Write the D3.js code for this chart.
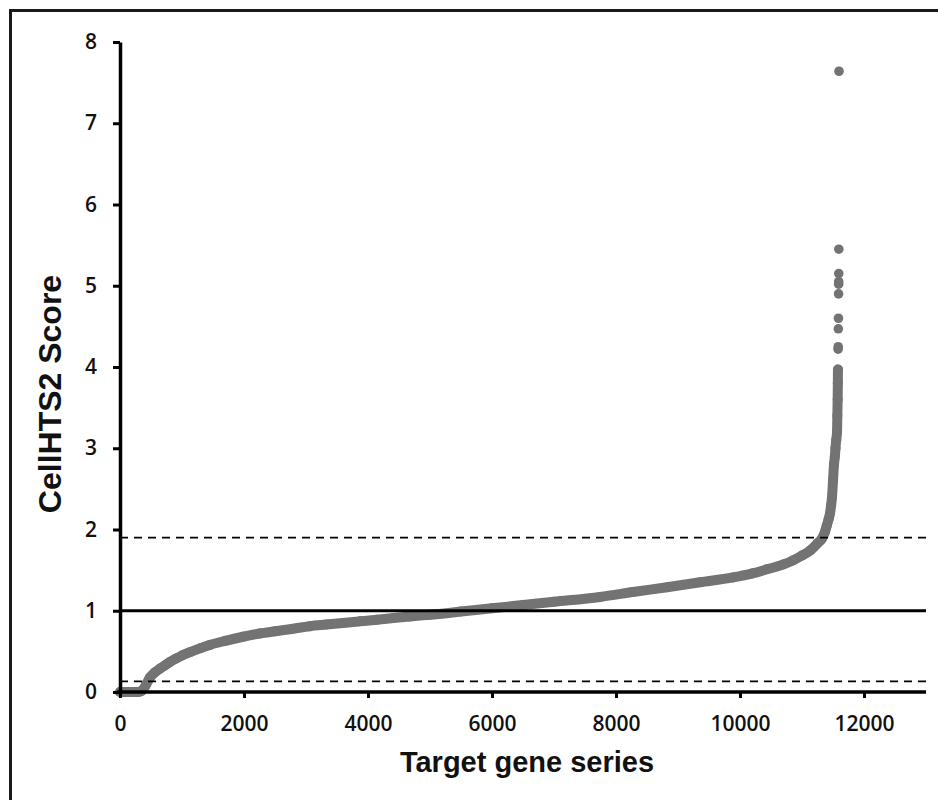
<!DOCTYPE html>
<html>
<head>
<meta charset="utf-8">
<script src="https://cdn.jsdelivr.net/npm/d3@7"></script>
<style>
  body { margin: 0; background: #fff; }
  svg { display: block; }
</style>
</head>
<body>
<svg id="chart" width="938" height="800"></svg>
<script>
// Sorted CellHTS2 scores (rank along the target gene series, score)
const geneRank = [0, 60, 120, 180, 240, 300, 360, 420, 484, 560, 650, 730, 806, 900, 1000, 1129, 1300, 1452,
  1700, 1984, 2250, 2532, 2800, 3065, 3330, 3597, 3870, 4145, 4410, 4677, 5000, 5500, 6000, 6500, 7000,
  7742, 8274, 8823, 9355, 9887, 10200, 10435, 10700, 10855, 11000, 11129, 11250, 11323, 11370, 11400,
  11430, 11452, 11470, 11484, 11500, 11516, 11530, 11540, 11552, 11565, 11570, 11575, 11578, 11580];
const geneScore = [0, 0, 0, 0, 0, 0, 0.02, 0.09, 0.18, 0.24, 0.29, 0.33, 0.37, 0.41, 0.45, 0.49, 0.54, 0.58,
  0.63, 0.68, 0.72, 0.75, 0.78, 0.81, 0.83, 0.85, 0.87, 0.89, 0.91, 0.93, 0.95, 0.99, 1.03, 1.07, 1.11,
  1.17, 1.23, 1.29, 1.35, 1.41, 1.46, 1.51, 1.57, 1.62, 1.68, 1.74, 1.83, 1.89, 1.97, 2.05,
  2.13, 2.20, 2.30, 2.40, 2.60, 2.80, 2.90, 3.00, 3.10, 3.20, 3.40, 3.60, 3.80, 3.97];
// isolated high-scoring hits at the top of the series
const hitRank = [11582, 11584, 11586, 11588, 11590, 11591, 11592, 11593, 11594, 11597];
const hitScore = [4.22, 4.25, 4.47, 4.60, 4.90, 5.02, 5.05, 5.15, 5.45, 7.64];
// reference lines
const refSolid = [1.0];
const refDashed = [1.9, 0.13];
// axes
const xTicks = [0, 2000, 4000, 6000, 8000, 10000, 12000];
const yTicks = [0, 1, 2, 3, 4, 5, 6, 7, 8];
const xDomain = [0, 13000];
const yDomain = [0, 8];
const xTitle = "Target gene series";
const yTitle = "CellHTS2 Score";

(function () {
const svg = d3.select("#chart");
const mLeft = 120, mRight = 926, mTop = 42, mBottom = 692;
const x = d3.scaleLinear().domain(xDomain).range([mLeft, mRight]);
const y = d3.scaleLinear().domain(yDomain).range([mBottom, mTop]);

// outer frame (continues beyond the picture on right and bottom)
svg.append("path").attr("d", "M10.5,810 L10.5,10.5 L950,10.5")
  .attr("fill", "none").attr("stroke", "#1a1a1a").attr("stroke-width", 3);

const ptColor = "#737373";
const pts = geneRank.map((r, i) => [r, geneScore[i]]);
// continuous band of overlapping points
svg.append("path").datum(pts)
  .attr("d", d3.line().curve(d3.curveMonotoneX).x(d => x(d[0])).y(d => y(d[1])))
  .attr("fill", "none").attr("stroke", ptColor).attr("stroke-width", 10)
  .attr("stroke-linecap", "round").attr("stroke-linejoin", "round");
svg.append("g").selectAll("circle").data(pts).join("circle")
  .attr("cx", d => x(d[0])).attr("cy", d => y(d[1])).attr("r", 5).attr("fill", ptColor);
svg.append("g").selectAll("circle").data(hitRank.map((r, i) => [r, hitScore[i]])).join("circle")
  .attr("cx", d => x(d[0])).attr("cy", d => y(d[1])).attr("r", 4.8).attr("fill", ptColor);

// reference lines
svg.append("g").selectAll("line").data(refDashed).join("line")
  .attr("x1", x(xDomain[0])).attr("x2", x(xDomain[1]))
  .attr("y1", d => y(d)).attr("y2", d => y(d))
  .attr("stroke", "#000").attr("stroke-width", 1.8).attr("stroke-dasharray", "8,6");
svg.append("g").selectAll("line").data(refSolid).join("line")
  .attr("x1", x(xDomain[0])).attr("x2", x(xDomain[1]))
  .attr("y1", d => y(d)).attr("y2", d => y(d))
  .attr("stroke", "#000").attr("stroke-width", 3);

const tickFont = "'Open Sans', sans-serif";
// x axis
const gx = svg.append("g").attr("transform", `translate(0,${mBottom})`)
  .call(d3.axisBottom(x).tickValues(xTicks).tickSize(6).tickSizeOuter(0).tickPadding(18).tickFormat(d3.format("d")));
gx.select(".domain").attr("stroke", "#000").attr("stroke-width", 3.5).attr("d", `M${mLeft - 3},0H${mRight}`);
gx.selectAll(".tick line").attr("stroke", "#000").attr("stroke-width", 3);
gx.selectAll(".tick text").attr("font-family", tickFont).attr("font-size", 21).attr("font-weight", 600).attr("fill", "#111");

// y axis
const gy = svg.append("g").attr("transform", `translate(${mLeft},0)`)
  .call(d3.axisLeft(y).tickValues(yTicks).tickSize(7).tickSizeOuter(0).tickPadding(16));
gy.select(".domain").attr("stroke", "#000").attr("stroke-width", 3.5);
gy.selectAll(".tick line").attr("stroke", "#000").attr("stroke-width", 3);
gy.selectAll(".tick text").attr("font-family", tickFont).attr("font-size", 21).attr("font-weight", 600).attr("fill", "#111");

// titles
svg.append("text").attr("x", (mLeft + mRight) / 2 + 4).attr("y", 772)
  .attr("text-anchor", "middle").attr("font-family", "'Liberation Sans', Arial, sans-serif")
  .attr("font-weight", "bold").attr("font-size", 29).attr("fill", "#111").text(xTitle);
svg.append("text").attr("transform", "translate(61,394) rotate(-90)")
  .attr("text-anchor", "middle").attr("font-family", "'Liberation Sans', Arial, sans-serif")
  .attr("font-weight", "bold").attr("font-size", 32).attr("fill", "#111").text(yTitle);
})();
</script>
</body>
</html>
